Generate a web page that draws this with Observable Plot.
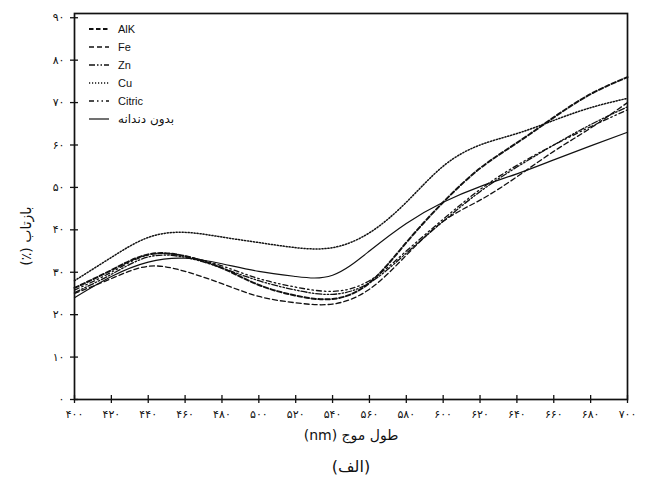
<!DOCTYPE html>
<html>
<head>
<meta charset="utf-8">
<script src="https://cdn.jsdelivr.net/npm/d3@7"></script>
<script src="https://cdn.jsdelivr.net/npm/@observablehq/plot@0.6"></script>
<style>
  html, body { margin: 0; padding: 0; background: #fff; }
  #wrap { position: relative; width: 650px; height: 491px; }
  #legend { position: absolute; left: 88px; top: 20px; font-family: "Liberation Sans", Arial, sans-serif; font-size: 11px; color: #111; }
  #legend .row { display: flex; align-items: center; height: 18px; }
  #legend svg { margin-right: 8px; }
</style>
</head>
<body>
<div id="wrap"><div id="legend"></div></div>
<script>
// wavelengths (nm)
const wavelengths = [400, 420, 440, 460, 480, 500, 520, 540, 560, 580, 600, 620, 640, 660, 680, 700];
// reflectance (%) per series
const alk    = [26.3, 30.5, 34.2, 33.8, 31.0, 27.0, 24.5, 23.7, 27.5, 37.0, 46.5, 54.5, 60.5, 66.5, 72.0, 76.0];
const fe     = [25.0, 28.5, 31.4, 30.2, 27.3, 24.3, 22.8, 22.5, 26.0, 34.0, 42.0, 47.0, 52.5, 58.5, 64.0, 70.0];
const zn     = [25.2, 29.5, 33.6, 33.5, 31.0, 28.0, 25.8, 24.8, 27.5, 34.5, 42.0, 49.0, 54.8, 60.0, 64.8, 69.0];
const cu     = [28.0, 33.5, 38.2, 39.4, 38.3, 37.0, 35.8, 35.8, 39.3, 46.5, 55.0, 60.0, 62.7, 65.8, 68.8, 71.0];
const citric = [25.8, 30.0, 34.1, 33.8, 31.5, 28.5, 26.5, 25.5, 28.0, 35.0, 42.5, 49.5, 55.2, 60.0, 64.3, 68.3];
const plain  = [24.0, 29.0, 32.4, 33.3, 32.0, 30.2, 29.0, 29.3, 35.0, 41.5, 46.5, 50.2, 53.2, 56.5, 59.8, 63.0];

const seriesNames = ["AlK", "Fe", "Zn", "Cu", "Citric", "بدون دندانه"];
const seriesValues = [alk, fe, zn, cu, citric, plain];
const xTicks = [400, 420, 440, 460, 480, 500, 520, 540, 560, 580, 600, 620, 640, 660, 680, 700];
const yTicks = [0, 10, 20, 30, 40, 50, 60, 70, 80, 90];
const xLabel = "طول موج (nm)";
const yLabel = "بازتاب (٪)";
const caption = "(الف)";

const styles = {
  "AlK":        {strokeWidth: 2.0, dash: "4.5,2.5"},
  "Fe":         {strokeWidth: 1.3, dash: "5,3"},
  "Zn":         {strokeWidth: 1.3, dash: "6,2,1.5,2,1.5,2"},
  "Cu":         {strokeWidth: 1.5, dash: "1.2,1.8"},
  "Citric":     {strokeWidth: 1.3, dash: "5,3,1.5,3,1.5,3"},
  "بدون دندانه": {strokeWidth: 1.2, dash: null}
};

const fa = (n) => String(n).replace(/\d/g, (c) => "۰۱۲۳۴۵۶۷۸۹"[+c]);

const rows = [];
seriesNames.forEach((name, i) => {
  wavelengths.forEach((w, j) => rows.push({series: name, x: w, y: seriesValues[i][j]}));
});

const lineMarks = seriesNames.map((name) =>
  Plot.line(rows.filter((d) => d.series === name), {
    x: "x", y: "y", curve: "natural", stroke: "#111",
    strokeWidth: styles[name].strokeWidth,
    strokeDasharray: styles[name].dash
  })
);

const chart = Plot.plot({
  width: 650,
  height: 491,
  marginLeft: 74,
  marginRight: 23,
  marginTop: 13,
  marginBottom: 92,
  style: {fontFamily: "'DejaVu Sans', sans-serif", fontSize: "11px", color: "#111", background: "#fff"},
  x: {domain: [400, 700]},
  y: {domain: [0, 91]},
  marks: [
    ...lineMarks,
    Plot.frame({stroke: "#111", strokeWidth: 1.7}),
    Plot.axisX(xTicks, {tickSize: 8, dy: -4, tickPadding: 7, tickFormat: fa, label: null, fontSize: 11, stroke: "#111", strokeWidth: 1.3}),
    Plot.axisY(yTicks, {tickSize: 8, dx: 4, tickPadding: 6, tickFormat: fa, label: null, fontSize: 11, stroke: "#111", strokeWidth: 1.3}),
    Plot.text([xLabel], {frameAnchor: "bottom", dy: 40, fontSize: 14, fill: "#111"}),
    Plot.text([caption], {frameAnchor: "bottom", dy: 72, fontSize: 16, fill: "#111"}),
    Plot.text([yLabel], {frameAnchor: "left", dx: -48, dy: 0, rotate: -90, fontSize: 14, fill: "#111"})
  ]
});
// right-to-left base direction for Persian labels
d3.select(chart).selectAll("text").each(function () {
  if (/[\u0600-\u06FF]/.test(this.textContent) && !/^[\u06F0-\u06F9]+$/.test(this.textContent)) {
    this.setAttribute("direction", "rtl");
    this.style.unicodeBidi = "embed";
  }
});
document.getElementById("wrap").prepend(chart);

// legend
const legend = d3.select("#legend");
seriesNames.forEach((name) => {
  const row = legend.append("div").attr("class", "row");
  const s = row.append("svg").attr("width", 22).attr("height", 10);
  s.append("line").attr("x1", 1).attr("x2", 21).attr("y1", 5).attr("y2", 5)
    .attr("stroke", "#111")
    .attr("stroke-width", styles[name].strokeWidth)
    .attr("stroke-dasharray", styles[name].dash);
  row.append("span").text(name)
    .style("font-family", /[\u0600-\u06FF]/.test(name) ? "'DejaVu Sans', sans-serif" : null)
    .style("font-size", /[\u0600-\u06FF]/.test(name) ? "12px" : null);
});
</script>
</body>
</html>
